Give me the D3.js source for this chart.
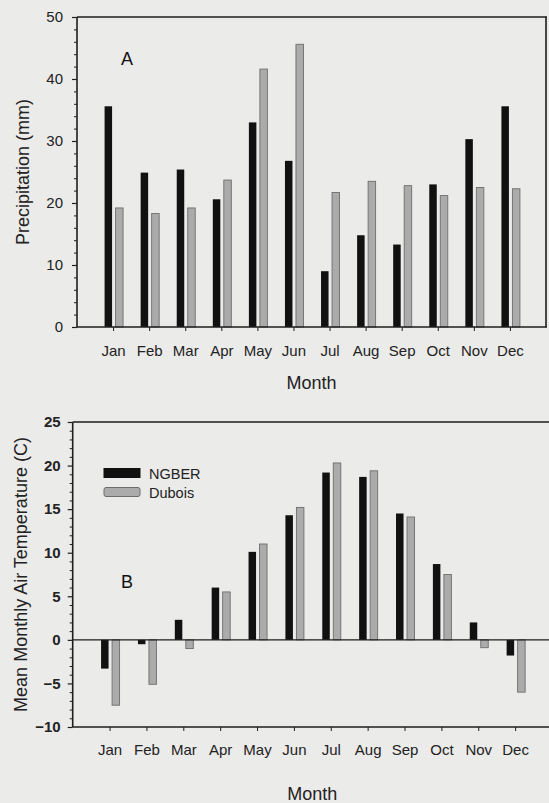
<!DOCTYPE html>
<html><head><meta charset="utf-8">
<script src="https://cdnjs.cloudflare.com/ajax/libs/d3/7.8.5/d3.min.js"></script>
<style>
html,body{margin:0;padding:0;background:#ebebea;}
svg{display:block;font-family:"Liberation Sans",Arial,Helvetica,sans-serif;}
</style></head>
<body>
<svg id="c" width="549" height="803"></svg>
<script>
const months = ["Jan","Feb","Mar","Apr","May","Jun","Jul","Aug","Sep","Oct","Nov","Dec"];
const seriesNames = ["NGBER","Dubois"];
const precipNGBER  = [35.6, 24.9, 25.4, 20.6, 33.0, 26.8, 9.0, 14.8, 13.3, 23.0, 30.3, 35.6];
const precipDubois = [19.2, 18.3, 19.2, 23.7, 41.6, 45.6, 21.7, 23.5, 22.8, 21.2, 22.5, 22.3];
const tempNGBER    = [-3.3, -0.5, 2.3, 6.0, 10.1, 14.3, 19.2, 18.7, 14.5, 8.7, 2.0, -1.8];
const tempDubois   = [-7.5, -5.1, -1.0, 5.5, 11.0, 15.2, 20.3, 19.4, 14.1, 7.5, -0.9, -6.0];
const precipTicks = [0,10,20,30,40,50];
const tempTicks = [-10,-5,0,5,10,15,20,25];

const svg = d3.select("#c");
const FRAME = "#1e1e1e";
const BLACK = "#111111";
const GRAYF = "#ababab";
const GRAYS = "#6e6e6e";

function panel(cfg){
  const g = svg.append("g");
  const x = d3.scaleLinear().domain([0,13]).range([cfg.left, cfg.right]);
  const y = d3.scaleLinear().domain(cfg.domain).range([cfg.bottom, cfg.top]);
  // minor ticks
  const minor = d3.range(cfg.domain[0], cfg.domain[1]+0.001, cfg.minorStep)
     .filter(v => cfg.ticks.indexOf(v) < 0);
  g.append("g").attr("transform",`translate(${cfg.left},0)`)
    .call(d3.axisLeft(y).tickValues(minor).tickSize(3).tickFormat(""))
    .call(s=>s.select(".domain").remove())
    .call(s=>s.selectAll("line").attr("stroke",FRAME).attr("stroke-width",1));
  // major
  g.append("g").attr("transform",`translate(${cfg.left},0)`)
    .call(d3.axisLeft(y).tickValues(cfg.ticks).tickSize(5).tickPadding(cfg.ypad).tickFormat(d3.format("d")))
    .call(s=>s.select(".domain").remove())
    .call(s=>s.selectAll("line").attr("stroke",FRAME).attr("stroke-width",1.2))
    .call(s=>s.selectAll("text").attr("font-size",15).attr("fill","#222")
       .attr("font-weight",cfg.bold?"bold":"normal")
       .attr("font-family","'Liberation Sans',Arial,sans-serif"));
  // x axis
  g.append("g").attr("transform",`translate(0,${cfg.bottom})`)
    .call(d3.axisBottom(x).tickValues(d3.range(1,13)).tickSize(4).tickPadding(cfg.xpad).tickFormat(d=>months[d-1]))
    .call(s=>s.select(".domain").remove())
    .call(s=>s.selectAll("line").attr("stroke",FRAME).attr("stroke-width",1))
    .call(s=>s.selectAll("text").attr("font-size",15).attr("fill","#222")
       .attr("font-family","'Liberation Sans',Arial,sans-serif"));
  // bars
  const bw = 7.5;
  const base = y(Math.max(cfg.domain[0],0));
  g.selectAll(".b1").data(cfg.s1).join("rect")
    .attr("x",(d,i)=>x(i+1)-8.5).attr("width",bw)
    .attr("y",d=>Math.min(y(d),base)).attr("height",d=>Math.abs(y(d)-base))
    .attr("fill",BLACK);
  g.selectAll(".b2").data(cfg.s2).join("rect")
    .attr("x",(d,i)=>x(i+1)+2.5).attr("width",bw)
    .attr("y",d=>Math.min(y(d),base)).attr("height",d=>Math.abs(y(d)-base))
    .attr("fill",GRAYF).attr("stroke",GRAYS).attr("stroke-width",0.9);
  // frame
  const fr = g.append("g").attr("stroke",FRAME).attr("stroke-width",1.6).attr("fill","none");
  fr.append("line").attr("x1",cfg.left).attr("x2",cfg.right+1).attr("y1",cfg.top).attr("y2",cfg.top);
  fr.append("line").attr("x1",cfg.left).attr("x2",cfg.right+1).attr("y1",cfg.bottom).attr("y2",cfg.bottom);
  fr.append("line").attr("x1",cfg.left).attr("x2",cfg.left).attr("y1",cfg.top).attr("y2",cfg.bottom);
  fr.append("line").attr("x1",cfg.right).attr("x2",cfg.right).attr("y1",cfg.top).attr("y2",cfg.bottom);
  // zero line for temperature
  if (cfg.domain[0] < 0) {
    g.append("line").attr("x1",cfg.left).attr("x2",cfg.right).attr("y1",y(0)).attr("y2",y(0))
      .attr("stroke",FRAME).attr("stroke-width",1.2);
  }
  // panel letter
  g.append("text").attr("x",121).attr("y",cfg.letterY).attr("font-size",18).attr("fill","#111").text(cfg.letter);
  // axis titles
  g.append("text").attr("x",(cfg.left+cfg.rightVis)/2).attr("y",cfg.monthY)
    .attr("text-anchor","middle").attr("font-size",18).attr("fill","#222").text("Month");
  g.append("text").attr("transform",`translate(${cfg.titleX},${(cfg.top+cfg.bottom)/2}) rotate(-90)`)
    .attr("text-anchor","middle").attr("font-size",18).attr("fill","#222").text(cfg.title);
  return {x,y,g};
}

panel({left:77, right:546, rightVis:546, top:17, bottom:327, domain:[0,50], ticks:precipTicks, minorStep:2,
  ypad:9, xpad:14, bold:false, s1:precipNGBER, s2:precipDubois, letter:"A", letterY:65,
  monthY:389, title:"Precipitation (mm)", titleX:29});

const pB = panel({left:72.7, right:552, rightVis:552, top:422, bottom:727, domain:[-10,25], ticks:tempTicks, minorStep:1,
  ypad:7, xpad:13, bold:true, s1:tempNGBER, s2:tempDubois, letter:"B", letterY:588,
  monthY:800, title:"Mean Monthly Air Temperature (C)", titleX:27});

// legend
const lg = svg.append("g");
const legY = [468.5, 487.5];
lg.selectAll("rect").data(seriesNames).join("rect")
  .attr("x",104).attr("y",(d,i)=>legY[i]).attr("width",36).attr("height",9)
  .attr("rx",(d,i)=>i?2:0)
  .attr("fill",(d,i)=>i?GRAYF:BLACK).attr("stroke",(d,i)=>i?GRAYS:BLACK).attr("stroke-width",1);
lg.selectAll("text").data(seriesNames).join("text")
  .attr("x",149).attr("y",(d,i)=>legY[i]+10).attr("font-size",14.5).attr("fill","#222").text(d=>d);
</script>
</body></html>
